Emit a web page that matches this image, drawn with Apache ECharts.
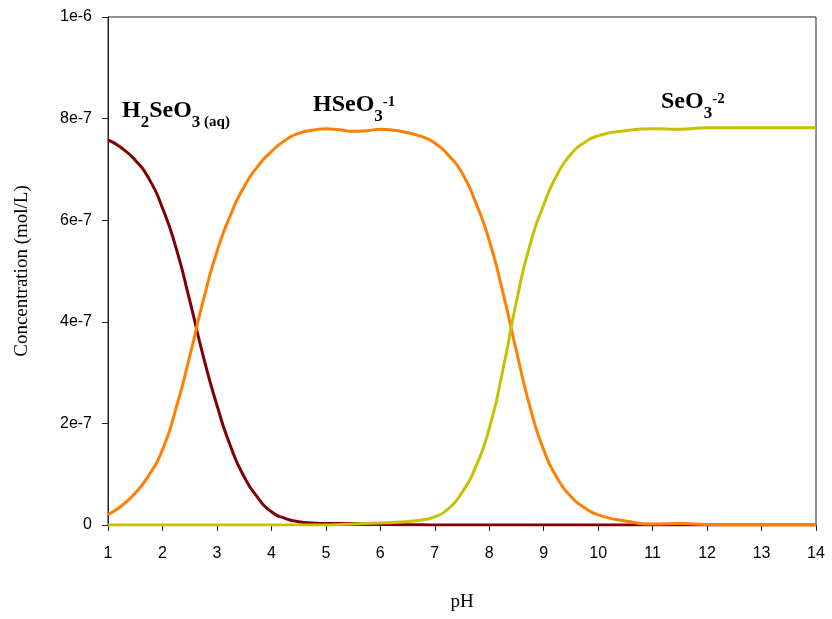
<!DOCTYPE html>
<html>
<head>
<meta charset="utf-8">
<script src="https://cdn.jsdelivr.net/npm/echarts@6/dist/echarts.min.js"></script>
<style>
  html, body { margin: 0; padding: 0; background: #fff; }
  #chart { width: 832px; height: 619px; }
</style>
</head>
<body>
<div id="chart"></div>
<script>
// pH values
const pH = [1, 1.25, 1.5, 1.75, 2, 2.25, 2.5, 2.75, 3, 3.25, 3.5, 3.75, 4, 4.25, 4.5, 4.75,
  5, 5.25, 5.5, 5.75, 6, 6.25, 6.5, 6.75, 7, 7.25, 7.5, 7.75, 8, 8.25, 8.5, 8.75,
  9, 9.25, 9.5, 9.75, 10, 10.5, 11, 11.5, 12, 12.5, 13, 13.5, 14];
// Concentrations (mol/L)
const h2seo3 = [7.58e-7, 7.42e-7, 7.18e-7, 6.82e-7, 6.24e-7, 5.45e-7, 4.42e-7, 3.32e-7, 2.36e-7, 1.55e-7, 0.95e-7, 0.54e-7, 0.26e-7, 0.13e-7, 0.065e-7, 0.04e-7,
  0.03e-7, 0.03e-7, 0.03e-7, 0.02e-7, 0.01e-7, 0.007e-7, 0.005e-7, 0.003e-7, 0.002e-7, 0.001e-7, 0, 0, 0, 0, 0, 0,
  0, 0, 0, 0, 0, 0, 0, 0, 0, 0, 0, 0, 0];
const hseo3 = [0.21e-7, 0.38e-7, 0.63e-7, 0.98e-7, 1.48e-7, 2.30e-7, 3.32e-7, 4.42e-7, 5.38e-7, 6.10e-7, 6.66e-7, 7.06e-7, 7.35e-7, 7.57e-7, 7.71e-7, 7.77e-7,
  7.80e-7, 7.78e-7, 7.75e-7, 7.76e-7, 7.79e-7, 7.77e-7, 7.72e-7, 7.65e-7, 7.52e-7, 7.28e-7, 6.93e-7, 6.35e-7, 5.60e-7, 4.58e-7, 3.42e-7, 2.32e-7,
  1.48e-7, 0.92e-7, 0.56e-7, 0.34e-7, 0.20e-7, 0.08e-7, 0.02e-7, 0.03e-7, 0.01e-7, 0, 0, 0, 0];
const seo3 = [0, 0, 0, 0, 0, 0, 0, 0, 0, 0, 0, 0, 0, 0, 0, 0,
  0, 0.01e-7, 0.02e-7, 0.03e-7, 0.04e-7, 0.05e-7, 0.07e-7, 0.10e-7, 0.16e-7, 0.32e-7, 0.64e-7, 1.14e-7, 1.90e-7, 3.05e-7, 4.40e-7, 5.52e-7,
  6.30e-7, 6.90e-7, 7.30e-7, 7.53e-7, 7.66e-7, 7.76e-7, 7.80e-7, 7.79e-7, 7.82e-7, 7.82e-7, 7.82e-7, 7.82e-7, 7.82e-7];
// Tick labels
const yTickValues = [0, 2e-7, 4e-7, 6e-7, 8e-7, 1e-6];
const yTickLabels = ['0', '2e-7', '4e-7', '6e-7', '8e-7', '1e-6'];
const xTickValues = [1, 2, 3, 4, 5, 6, 7, 8, 9, 10, 11, 12, 13, 14];

const zip = (xs, ys) => xs.map((x, i) => [x, ys[i]]);

const chart = echarts.init(document.getElementById('chart'), null, {renderer: 'canvas'});

const serif = '"Liberation Serif", "Times New Roman", serif';
const sans = '"Liberation Sans", Arial, sans-serif';

const rich = {
  m: {fontSize: 24, fontWeight: 'bold', fontFamily: serif, color: '#000', lineHeight: 24, verticalAlign: 'bottom', padding: [0, 0, 8, 0]},
  s: {fontSize: 17, fontWeight: 'bold', fontFamily: serif, color: '#000', lineHeight: 17, verticalAlign: 'bottom', padding: [0, 0, 0, 0]},
  a: {fontSize: 15, fontWeight: 'bold', fontFamily: serif, color: '#000', lineHeight: 15, verticalAlign: 'bottom', padding: [0, 0, 1, 0]},
  p: {fontSize: 15, fontWeight: 'bold', fontFamily: serif, color: '#000', lineHeight: 15, verticalAlign: 'bottom', padding: [0, 0, 15, 0]}
};

function label(x, y, text) {
  return {
    type: 'text', left: x, top: y, z: 100,
    style: {text: text, rich: rich, fill: '#000'}
  };
}

const lineBase = {type: 'line', showSymbol: false, symbol: 'none', smooth: 0.6, lineStyle: {width: 3}, animation: false};

chart.setOption({
  animation: false,
  backgroundColor: '#fff',
  grid: {left: 108, right: 16, top: 17, bottom: 94, show: true, borderColor: '#222', borderWidth: 1, backgroundColor: 'transparent'},
  xAxis: {
    type: 'value', min: 1, max: 14, interval: 1,
    name: 'pH', nameLocation: 'middle', nameGap: 68,
    nameTextStyle: {fontFamily: serif, fontSize: 19, color: '#000'},
    axisLine: {show: true, lineStyle: {color: '#222', width: 1}},
    axisTick: {show: true, inside: false, length: 6, lineStyle: {color: '#222'}},
    axisLabel: {fontFamily: sans, fontSize: 16, color: '#000', margin: 21,
      formatter: v => xTickValues.includes(v) ? String(v) : ''},
    splitLine: {show: false}
  },
  yAxis: {
    type: 'value', min: 0, max: 1e-6, interval: 2e-7,
    name: 'Concentration (mol/L)', nameLocation: 'middle', nameGap: 76,
    nameTextStyle: {fontFamily: serif, fontSize: 19, color: '#000'},
    axisLine: {show: true, lineStyle: {color: '#222', width: 1}},
    axisTick: {show: true, inside: false, length: 6, lineStyle: {color: '#222'}},
    axisLabel: {fontFamily: sans, fontSize: 16, color: '#000', margin: 16,
      formatter: v => {
        const i = yTickValues.findIndex(t => Math.abs(t - v) < 1e-12);
        return i >= 0 ? yTickLabels[i] : '';
      }},
    splitLine: {show: false}
  },
  series: [
    Object.assign({}, lineBase, {name: 'H2SeO3', data: zip(pH, h2seo3), lineStyle: {width: 3, color: '#800000'}, itemStyle: {color: '#800000'}, z: 2}),
    Object.assign({}, lineBase, {name: 'HSeO3-', data: zip(pH, hseo3), lineStyle: {width: 3, color: '#ff8000'}, itemStyle: {color: '#ff8000'}, z: 3}),
    Object.assign({}, lineBase, {name: 'SeO3-2', data: zip(pH, seo3), lineStyle: {width: 3, color: '#c8c000'}, itemStyle: {color: '#c8c000'}, z: 4})
  ],
  graphic: [
    label(122, 99, '{m|H}{s|2}{m|SeO}{s|3}{a| (aq)}'),
    label(313, 93, '{m|HSeO}{s|3}{p|-1}'),
    label(661, 90, '{m|SeO}{s|3}{p|-2}')
  ]
});
</script>
</body>
</html>
